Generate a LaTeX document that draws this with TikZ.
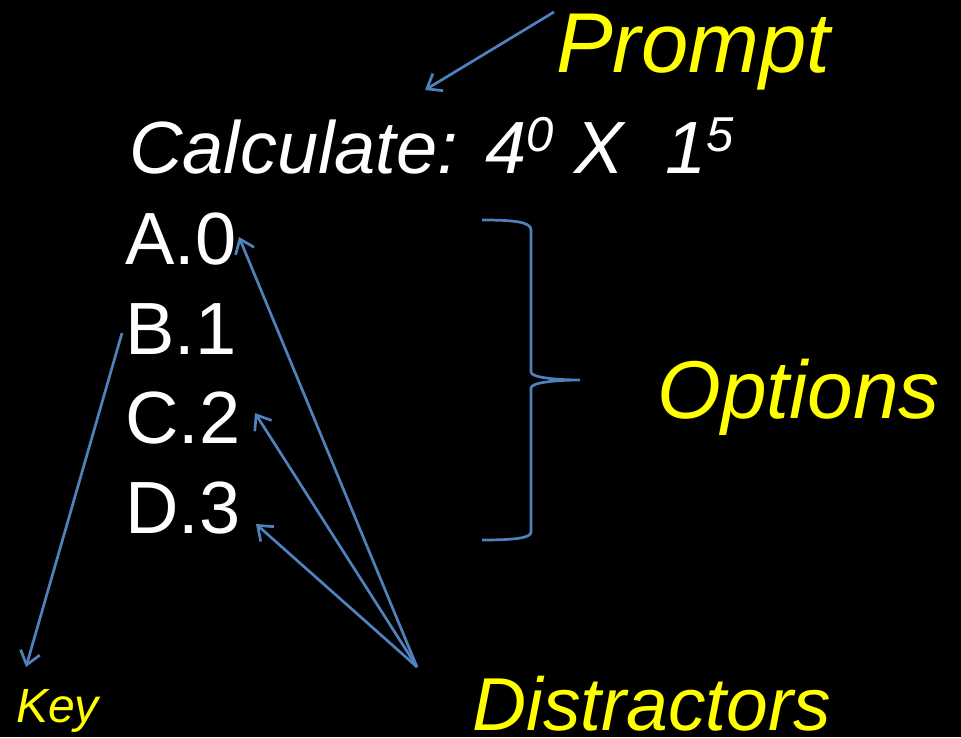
\documentclass[tikz,border=0pt]{standalone}
\usepackage{fontspec}
\setmainfont{Liberation Sans}
\usetikzlibrary{arrows.meta}
\definecolor{lblyellow}{HTML}{FFFF00}
\definecolor{arrblue}{HTML}{4F81BD}
\tikzset{
  lbl/.style={text=lblyellow, inner sep=0pt, anchor=base west, font=\itshape\fontsize{#1}{#1}\selectfont},
  opt/.style={text=white, inner sep=0pt, anchor=base west, font=\fontsize{74}{74}\selectfont},
  pointer/.style={draw=arrblue, line width=2.7pt, -{Straight Barb[length=13pt,width=20pt,line width=2.7pt]}},
  bracestyle/.style={draw=arrblue, line width=2.7pt}
}
\newcommand{\supr}[1]{\raisebox{0.29em}{\fontsize{49}{49}\selectfont #1}}
\begin{document}
\begin{tikzpicture}[x=1pt,y=-1pt]
\fill[black] (0,0) rectangle (961,737);
\useasboundingbox (0,0) rectangle (961,737);
% labels
\node[lbl=85] (prompt) at (556,72) {Prompt};
\node[lbl=82] (options) at (657,418) {Options};
\node[lbl=75, text depth=0pt] (distr) at (472,730) {Distractors};
\node[lbl=48] (key) at (16,722) {Key};
% question
\node[text=white, inner sep=0pt, anchor=base west, font=\itshape\fontsize{74}{74}\selectfont] (q) at (129,173) {Calculate: 4\supr{0} X\ \ 1\supr{5}};
% options
\node[opt] (a) at (125,264) {A.0};
\node[opt] (b) at (125,354) {B.1};
\node[opt] (c) at (125,443) {C.2};
\node[opt] (d) at (125,533) {D.3};
% connector coordinates
\coordinate (pfrom) at (554,12);
\coordinate (pto) at (425,90);
\coordinate (kfrom) at (122,333);
\coordinate (kto) at (26,667);
\coordinate (dfrom) at (417,667);
\coordinate (ato) at (239,237);
\coordinate (cto) at (255,413);
\coordinate (dto) at (256,524);
\draw[pointer] (pfrom) -- (pto);
\draw[pointer] (kfrom) -- (kto);
\draw[pointer] (dfrom) -- (ato);
\draw[pointer] (dfrom) -- (cto);
\draw[pointer] (dfrom) -- (dto);
% brace
\draw[bracestyle] (482,220) .. controls (515,220) and (531,222) .. (531,230)
  -- (531,372) .. controls (531,378) and (560,380) .. (580,380)
  .. controls (560,380) and (531,382) .. (531,388)
  -- (531,532) .. controls (531,538) and (515,540) .. (482,540);
\end{tikzpicture}
\end{document}
